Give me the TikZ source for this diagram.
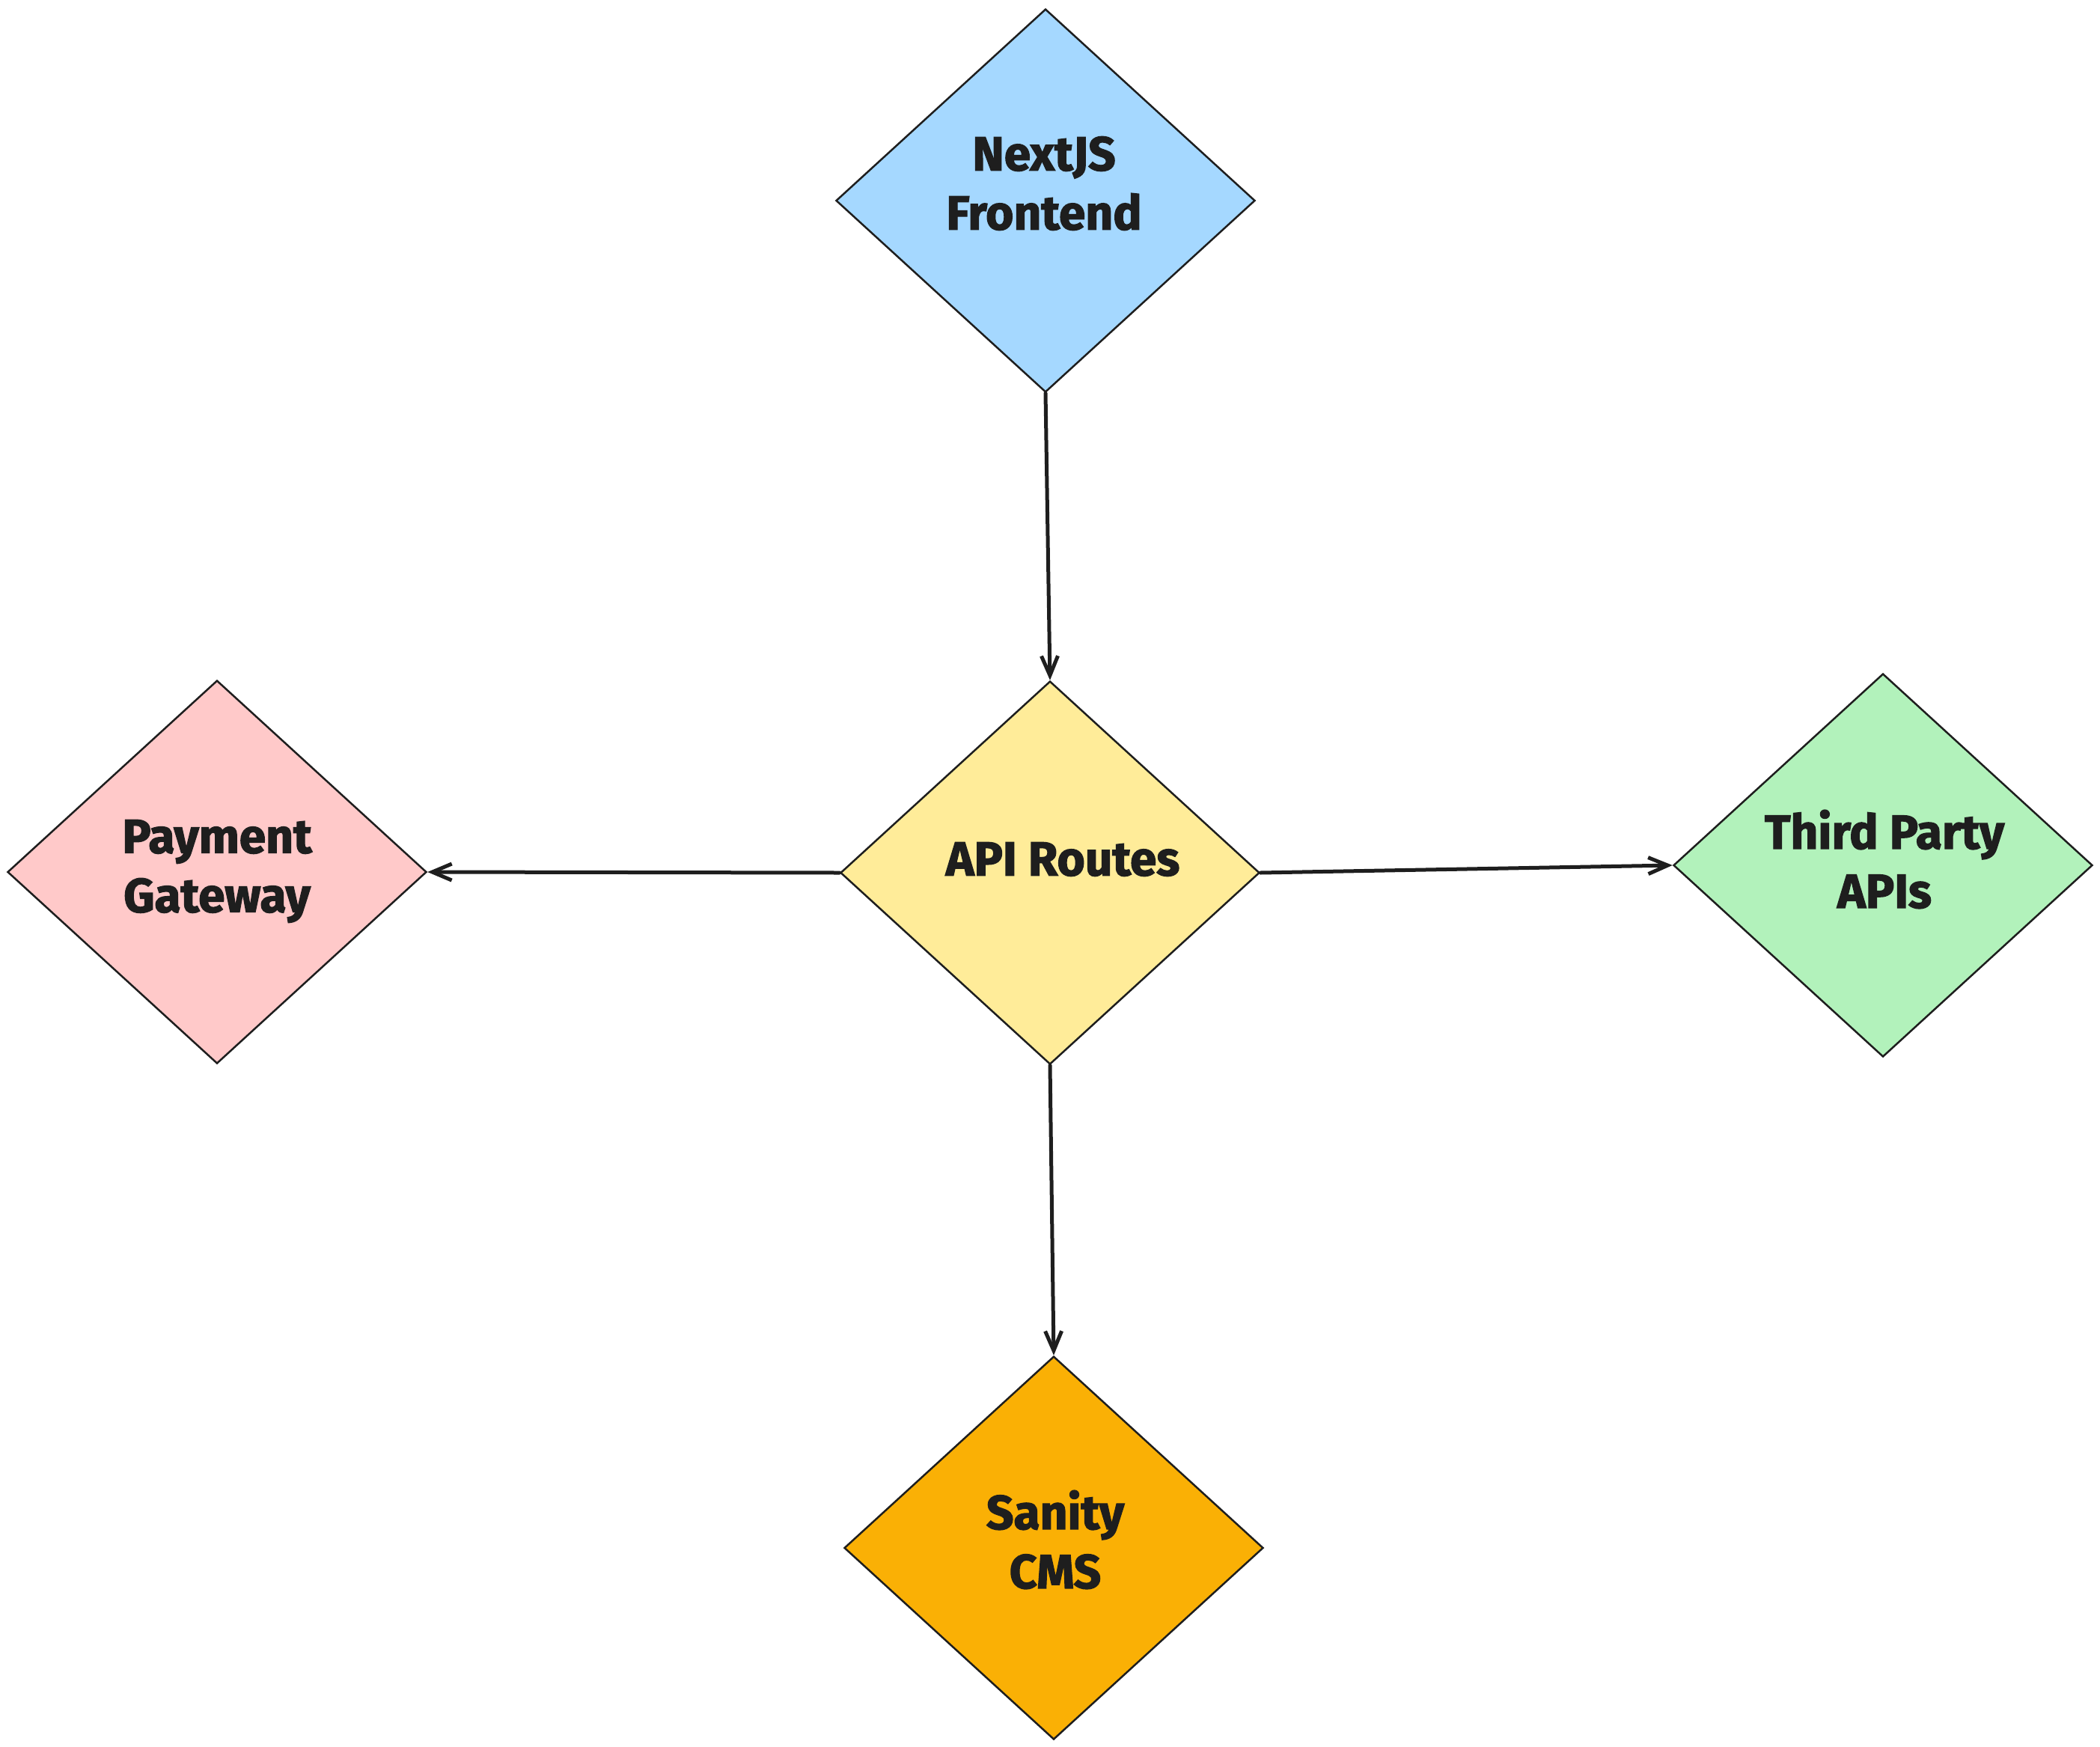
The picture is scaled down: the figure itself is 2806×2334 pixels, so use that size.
\documentclass[tikz,border=0pt]{standalone}
\usepackage{fontspec}
\setmainfont{Fira Sans}[BoldFeatures={FakeBold=2}]
\usetikzlibrary{shapes.geometric,arrows.meta}
\definecolor{ink}{HTML}{1E1E1E}
\definecolor{cblue}{HTML}{A5D8FF}
\definecolor{cyellow}{HTML}{FFEC99}
\definecolor{cpink}{HTML}{FFC9C9}
\definecolor{cgreen}{HTML}{B2F2BB}
\definecolor{corange}{HTML}{FAB005}
\tikzset{
  dbox/.style={diamond, draw=ink, line width=2.5pt, inner sep=0pt, aspect=1,
    minimum width=560pt, minimum height=512pt},
  lbl/.style={text=ink, align=center, inner sep=0pt,
    font=\fontsize{64}{79}\selectfont\bfseries},
  conn/.style={draw=ink, line width=5pt, line cap=round,
    -{Straight Barb[length=26pt,width=22pt,line width=5pt]}}
}
\begin{document}
\begin{tikzpicture}[x=1pt,y=-1pt]
\useasboundingbox (0,0) rectangle (2806,2334);
\node[dbox, fill=cblue]   (next) at (1397,268) {};
\node[dbox, fill=cyellow] (api)  at (1403,1166) {};
\node[dbox, fill=cpink]   (pay)  at (290,1165) {};
\node[dbox, fill=cgreen]  (third) at (2516,1156) {};
\node[dbox, fill=corange] (cms)  at (1408,2068) {};

\node[lbl] (tnext) at (1395,245) {NextJS\\Frontend};
\node[lbl] (tapi) at (1420,1148) {API Routes};
\node[lbl] (tpay) at (290,1164) {Payment\\Gateway};
\node[lbl] (tthird) at (2518,1148) {Third Party\\APIs};
\node[lbl] (tcms) at (1410,2057) {Sanity\\CMS};

\draw[conn] (next.south) -- (api.north);
\draw[conn] (api.west) -- (pay.east);
\draw[conn] (api.east) -- (third.west);
\draw[conn] (api.south) -- (cms.north);
\end{tikzpicture}
\end{document}
